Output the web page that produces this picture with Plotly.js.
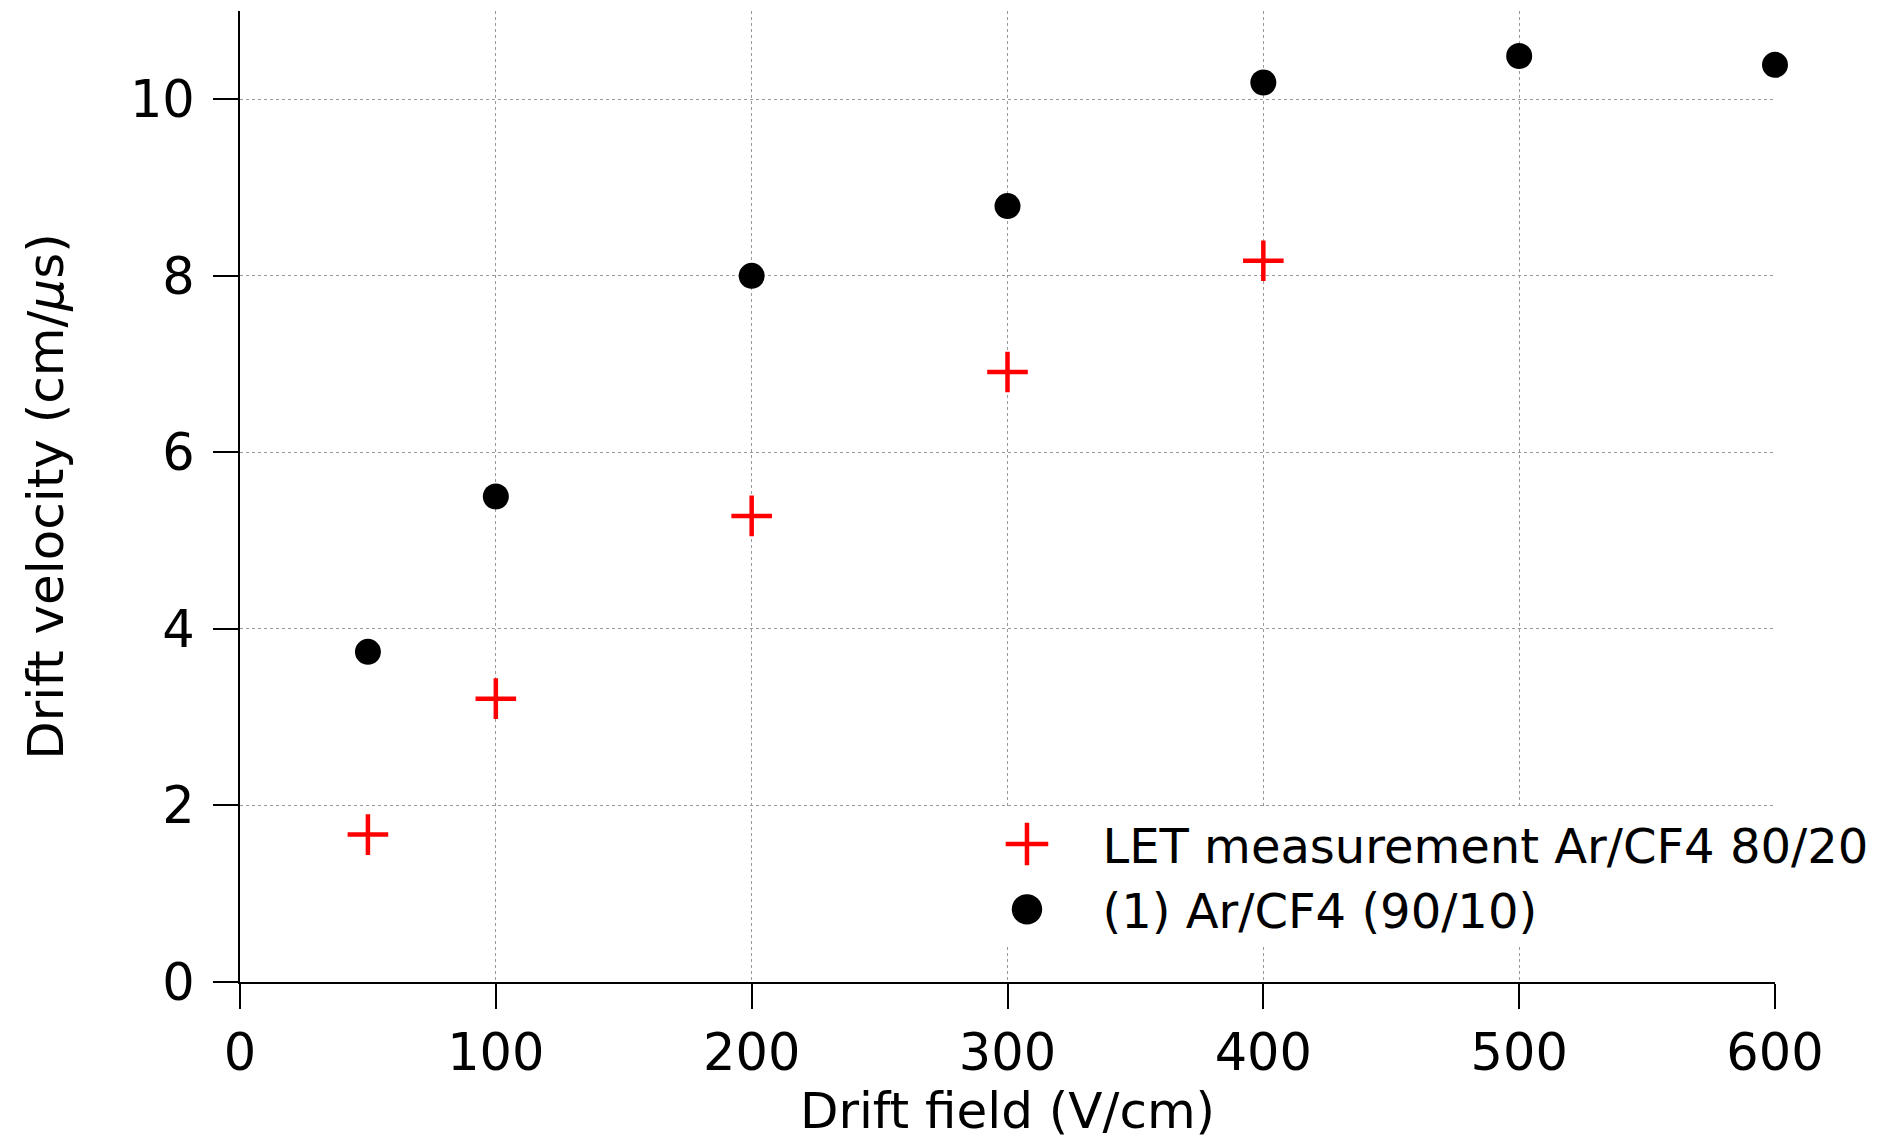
<!DOCTYPE html>
<html>
<head>
<meta charset="utf-8">
<script src="https://cdn.plot.ly/plotly-3.0.1.min.js"></script>
<style>
  html, body { margin: 0; padding: 0; background: #fff; }
  #chart { width: 1879px; height: 1141px; }
</style>
</head>
<body>
<div id="chart"></div>
<script>
// Data
const letField = [50, 100, 200, 300, 400];
const letVelocity = [1.67, 3.21, 5.28, 6.91, 8.17];
const refField = [50, 100, 200, 300, 400, 500, 600];
const refVelocity = [3.74, 5.50, 8.00, 8.79, 10.19, 10.49, 10.39];
const seriesNames = ['LET measurement Ar/CF4 80/20', '(1) Ar/CF4 (90/10)'];
const xTicks = [0, 100, 200, 300, 400, 500, 600];
const yTicks = [0, 2, 4, 6, 8, 10];

const FONT = 'DejaVu Sans, Liberation Sans, sans-serif';

const data = [
  {
    x: letField, y: letVelocity, name: seriesNames[0],
    type: 'scatter', mode: 'markers', cliponaxis: false,
    marker: { symbol: 'cross-thin', size: 29, color: '#ff0000', line: { color: '#ff0000', width: 4.5 } }
  },
  {
    x: refField, y: refVelocity, name: seriesNames[1],
    type: 'scatter', mode: 'markers', cliponaxis: false,
    marker: { symbol: 'circle', size: 26, color: '#000000', line: { width: 0 } }
  }
];

const axisCommon = {
  showline: true, linecolor: '#000', linewidth: 2,
  ticks: 'outside', ticklen: 25, tickwidth: 2, tickcolor: '#000',
  showgrid: true, gridcolor: '#9a9a9a', gridwidth: 1, griddash: 'dot',
  zeroline: false,
  tickfont: { family: FONT, size: 51, color: '#000' }
};

const layout = {
  width: 1879, height: 1141,
  paper_bgcolor: '#fff', plot_bgcolor: '#fff',
  margin: { l: 240, r: 104, t: 11, b: 159, autoexpand: false },
  showlegend: true,
  xaxis: Object.assign({}, axisCommon, {
    range: [0, 600], tickvals: xTicks, ticktext: xTicks.map(String),
    title: { text: 'Drift field (V/cm)', standoff: 5, font: { family: FONT, size: 50, color: '#000' } }
  }),
  yaxis: Object.assign({}, axisCommon, {
    range: [0, 11], tickvals: yTicks, ticktext: yTicks.map(String),
    ticklabelstandoff: 8,
    title: { text: 'Drift velocity (cm/<i>μ</i>s)', standoff: 50, font: { family: FONT, size: 50, color: '#000' } }
  }),
  legend: {
    x: 0.4635, y: 0.181, xanchor: 'left', yanchor: 'top',
    bgcolor: '#ffffff', borderwidth: 0,
    font: { family: FONT, size: 48, color: '#000' },
    itemwidth: 141, tracegroupgap: 0
  }
};

Plotly.newPlot('chart', data, layout, { staticPlot: true }).then(gd => {
  const s = 1.9;
  gd.querySelectorAll('.legend .legendpoints path.scatterpts').forEach(p => {
    const t = p.getAttribute('transform') || '';
    p.setAttribute('transform', t + ' scale(' + s + ')');
    const sw = parseFloat(p.style.strokeWidth || '0');
    if (sw > 0) p.style.strokeWidth = (4.5 / s) + 'px';
  });
});
</script>
</body>
</html>
